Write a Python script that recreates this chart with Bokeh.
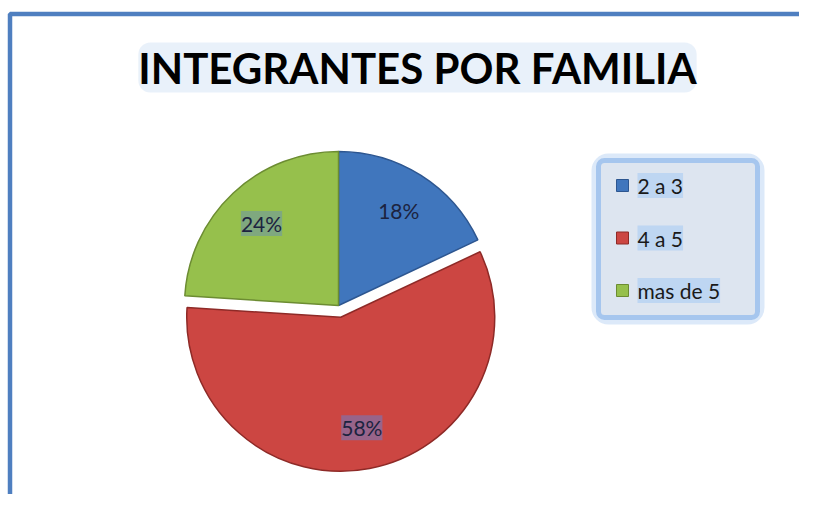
import numpy as np
from bokeh.plotting import figure
from bokeh.models import ColumnDataSource, Range1d, Label, LabelSet, BoxAnnotation
from bokeh.core.properties import value
from bokeh.embed import file_html
from bokeh.resources import INLINE

# ---- data ----
chart_title = "INTEGRANTES POR FAMILIA"
categories = ["2 a 3", "4 a 5", "mas de 5"]
percents = [18, 58, 24]

# ---- style ----
colors = ["#4076bd", "#cc4642", "#96c04c"]
edge_colors = ["#2d5690", "#8e2a27", "#6c8c32"]
explode = [0, 12, 0]
label_bg = ["#4a80c6", "#8b6c9c", "#79a18c"]
label_bg_alpha = [0.0, 0.8, 0.8]
FONT = "Lato"

W, H = 799, 494
p = figure(width=W, height=H, output_backend="svg", toolbar_location=None,
           x_range=Range1d(0, W), y_range=Range1d(510 - H, 510),
           min_border=0, outline_line_color=None, background_fill_color="white",
           border_fill_color="white")
p.axis.visible = False
p.grid.visible = False

# frame (left and top edges visible)
p.line(x=[9.5, 9.5, 2000], y=[-100, 496.5, 496.5], line_color="#4f7fc0",
       line_width=4.5)

# pie geometry
cx, cy, R = 338, 205, 154
vals = np.array(percents, dtype=float)
cum = np.concatenate([[0], np.cumsum(vals)]) / vals.sum()
start = np.pi / 2 - 2 * np.pi * cum[:-1]
end = np.pi / 2 - 2 * np.pi * cum[1:]
mid = (start + end) / 2
ex = np.array(explode, dtype=float)
xs = cx + ex * np.cos(mid)
ys = cy + ex * np.sin(mid)

src = ColumnDataSource(dict(x=xs, y=ys, start=start, end=end, color=colors,
                            edge=edge_colors, cat=categories))
p.wedge(x="x", y="y", radius=R, start_angle="start", end_angle="end",
        direction="clock", fill_color="color", line_color="edge", line_width=1.5,
        source=src)

lab = ColumnDataSource(dict(
    x=xs + 0.73 * R * np.cos(mid), y=ys + 0.73 * R * np.sin(mid),
    text=[f"{v}%" for v in percents], bg=label_bg, bga=label_bg_alpha))
p.add_layout(LabelSet(x="x", y="y", text="text", source=lab, text_align="center",
                      text_baseline="middle", text_font=value(FONT),
                      text_font_size="21px", text_color="#1c2340",
                      background_fill_color="bg", background_fill_alpha="bga"))

# title
p.add_layout(Label(x=417, y=443, text=chart_title, text_align="center",
                   text_baseline="middle", text_font=FONT, text_font_size="42px",
                   text_font_style="bold", text_color="black",
                   background_fill_color="#b7d1f0", background_fill_alpha=0.3,
                   border_radius=12))

# legend box (manual, with glow) drawn beneath the markers
p.add_layout(BoxAnnotation(left=598, right=757, top=350, bottom=193,
                           fill_alpha=0, line_color="#b9d4f3", line_width=14,
                           line_alpha=0.5, border_radius=10, level="underlay"))
p.add_layout(BoxAnnotation(left=598, right=757, top=350, bottom=193,
                           fill_color="#dde5f0", fill_alpha=1, line_color="#a6c6ee",
                           line_alpha=1, line_width=5, border_radius=6,
                           level="underlay"))

n = len(categories)
row_y = 325 - np.arange(n) * 52.5
leg = ColumnDataSource(dict(x=[622] * n, tx=[637] * n, y=row_y, color=colors,
                            edge=edge_colors, text=categories))
p.scatter(x="x", y="y", marker="square", size=12, fill_color="color",
          line_color="edge", source=leg)
p.add_layout(LabelSet(x="tx", y="y", text="text", source=leg, text_align="left",
                      text_baseline="middle", text_font=value(FONT),
                      text_font_size="21px", text_color="#1a1a1a",
                      background_fill_color="#b6d2f2", background_fill_alpha=0.8))

open("out.html", "w").write(file_html(p, INLINE))
